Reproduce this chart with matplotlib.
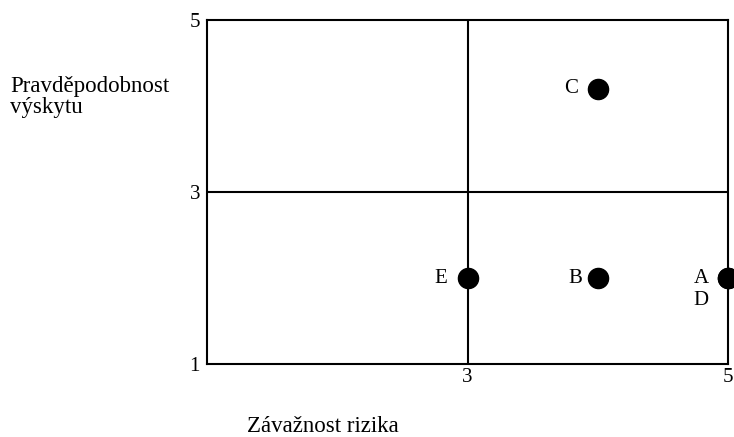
import matplotlib.pyplot as plt

labels = ['A', 'B', 'C', 'D', 'E']
severity = [5, 4, 4, 5, 3]            # Závažnost rizika
probability = [2, 2, 4.2, 2, 2]       # Pravděpodobnost výskytu
x_ticks = [3, 5]
y_ticks = [1, 3, 5]

# label placement (offset points) for each letter
label_offsets = {'A': (-14, 0), 'B': (-11, 0), 'C': (-14, 0), 'D': (-14, -16), 'E': (-15, 0)}

plt.rcParams['font.family'] = ['Liberation Serif', 'DejaVu Serif']

fig = plt.figure(figsize=(7.34, 4.37), dpi=100)
ax = fig.add_axes([0.282, 0.167, 0.710, 0.787])

ax.set_xlim(1, 5)
ax.set_ylim(1, 5)
for s in ax.spines.values():
    s.set_linewidth(1.5)
ax.axvline(3, color='black', linewidth=1.5)
ax.axhline(3, color='black', linewidth=1.5)

ax.plot(severity, probability, 'o', color='black', markersize=14.5, clip_on=False)
for lab, x, y in zip(labels, severity, probability):
    ax.annotate(lab, (x, y), xytext=label_offsets[lab], textcoords='offset points',
                ha='right', va='center', fontsize=15)

ax.set_xticks(x_ticks)
ax.set_yticks(y_ticks)
ax.set_xticklabels([str(t) for t in x_ticks])
ax.set_yticklabels([str(t) for t in y_ticks])
ax.tick_params(axis='both', length=0, labelsize=15)
ax.tick_params(axis='x', pad=3)
ax.tick_params(axis='y', pad=5)

fig.text(0.0136, 0.778, 'Pravděpodobnost\nvýskytu', ha='left', va='center',
         fontsize=16.5, linespacing=1.05)
fig.text(0.44, 0.023, 'Závažnost rizika', ha='center', va='center', fontsize=16.5)

fig.savefig('out.png', dpi=100)
